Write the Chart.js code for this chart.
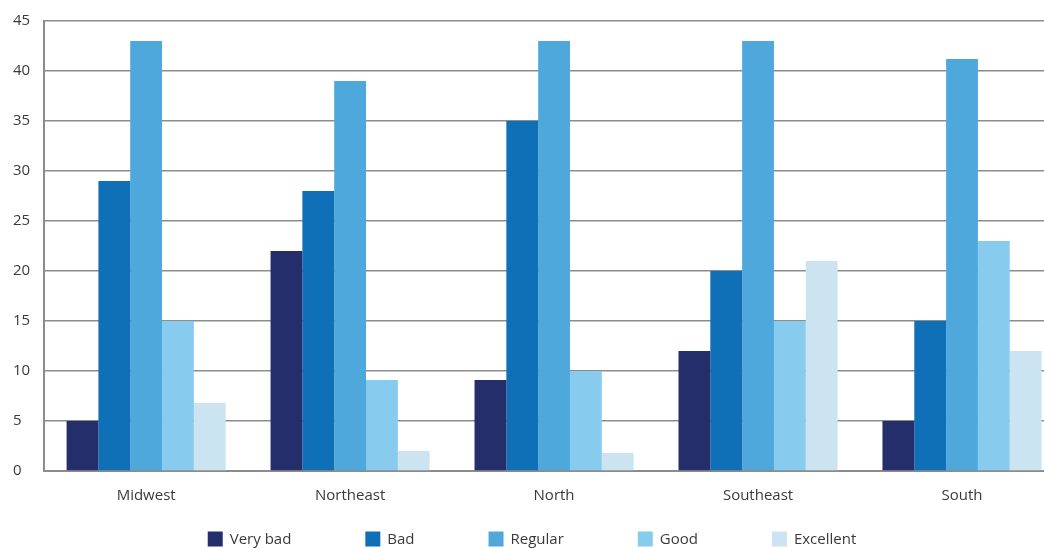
<!DOCTYPE html>
<html>
<head>
<meta charset="utf-8">
<script src="https://cdn.jsdelivr.net/npm/chart.js@4/dist/chart.umd.min.js"></script>
<style>
    html, body { margin: 0; padding: 0; background: #fff; overflow: hidden; }
    #wrap { width: 1064px; height: 548px; position: relative; }
</style>
</head>
<body>
<div id="wrap"><canvas id="chart"></canvas></div>
<script>
const regions = ['Midwest', 'Northeast', 'North', 'Southeast', 'South'];
const ratings = ['Very bad', 'Bad', 'Regular', 'Good', 'Excellent'];

const veryBad = [5, 22, 9.1, 12, 5];
const bad = [29, 28, 35, 20, 15];
const regular = [43, 39, 43, 43, 41.2];
const good = [15, 9.1, 10, 15, 23];
const excellent = [6.8, 2, 1.8, 21, 12];

const colors = ['#232e6b', '#0f6fb7', '#4fa8dc', '#87cbef', '#cce3f2'];
const series = [veryBad, bad, regular, good, excellent];

const textColor = '#3a3a3a';
const font = { family: "'Open Sans', sans-serif", size: 15 };

// legend drawn in a single row at the bottom, wide gaps like the source
const bottomLegend = {
    id: 'bottomLegend',
    afterDraw(chart, args, opts) {
        const ctx = chart.ctx;
        const items = chart.data.datasets;
        const box = 15;
        const gap = opts.gap;
        ctx.save();
        ctx.font = `${font.size}px ${font.family}`;
        ctx.textBaseline = 'middle';
        ctx.textAlign = 'left';
        const widths = items.map((d) => box + 7 + ctx.measureText(d.label).width);
        const total = widths.reduce((a, b) => a + b, 0) + gap * (items.length - 1);
        let x = (chart.width - total) / 2;
        const y = opts.y;
        items.forEach((d, i) => {
            ctx.fillStyle = d.backgroundColor;
            ctx.fillRect(x, y - box / 2, box, box);
            ctx.fillStyle = textColor;
            ctx.fillText(d.label, x + box + 7, y + 1);
            x += widths[i] + gap;
        });
        ctx.restore();
    },
};

new Chart(document.getElementById('chart').getContext('2d'), {
    type: 'bar',
    data: {
        labels: regions,
        datasets: series.map((data, i) => ({
            label: ratings[i],
            data,
            backgroundColor: colors[i],
            borderWidth: 0,
            categoryPercentage: 0.78,
            barPercentage: 1.0,
        })),
    },
    plugins: [bottomLegend],
    options: {
        responsive: true,
        maintainAspectRatio: false,
        animation: false,
        layout: {
            padding: { top: 21, left: 13, right: 0, bottom: 35 },
        },
        plugins: {
            tooltip: { enabled: false },
            legend: { display: false },
            bottomLegend: { gap: 74, y: 539 },
        },
        scales: {
            x: {
                grid: { display: false },
                border: { color: '#8c8c8c', width: 2 },
                ticks: { color: textColor, font, padding: 8 },
            },
            y: {
                min: 0,
                max: 45,
                ticks: {
                    stepSize: 5,
                    color: textColor,
                    font,
                    padding: 7,
                    crossAlign: 'far',
                },
                grid: {
                    color: '#8c8c8c',
                    lineWidth: 1.5,
                    drawTicks: false,
                },
                border: { color: '#8c8c8c', width: 2 },
            },
        },
    },
});
</script>
</body>
</html>
